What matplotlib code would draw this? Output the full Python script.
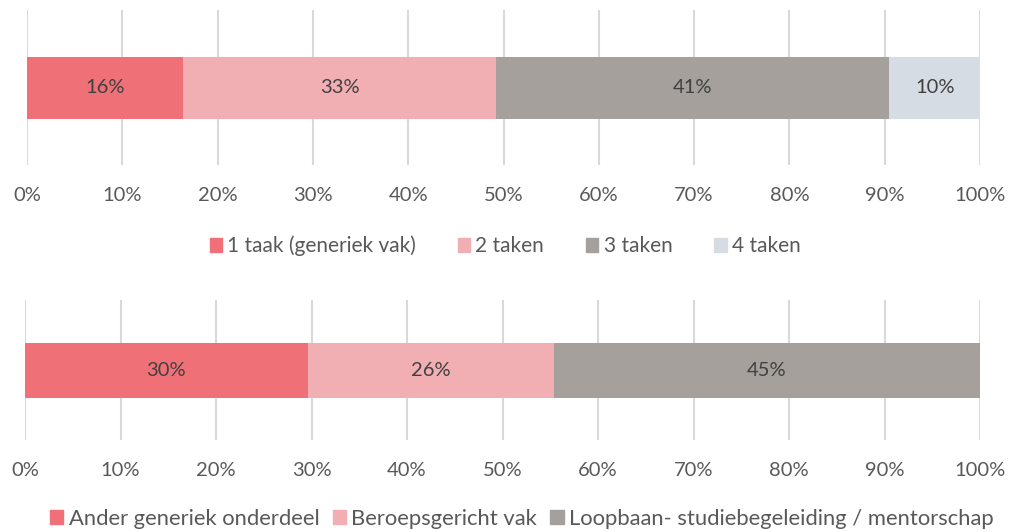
import numpy as np
import matplotlib.pyplot as plt
from matplotlib.patches import Patch

plt.rcParams['font.family'] = ['Lato', 'DejaVu Sans']

# top chart
top_labels = ['1 taak (generiek vak)', '2 taken', '3 taken', '4 taken']
top_values = [16.4, 32.8, 41.3, 9.5]
top_text = ['16%', '33%', '41%', '10%']
top_colors = ['#EF7177', '#F2AFB3', '#A5A09B', '#D5DCE4']

# bottom chart
bot_labels = ['Ander generiek onderdeel', 'Beroepsgericht vak',
              'Loopbaan- studiebegeleiding / mentorschap']
bot_values = [29.6, 25.8, 44.6]
bot_text = ['30%', '26%', '45%']
bot_colors = ['#EF7177', '#F2AFB3', '#A5A09B']

ticks = np.arange(0, 101, 10)
tick_labels = [f'{t}%' for t in ticks]

W, H = 1011, 532
fig = plt.figure(figsize=(W / 100, H / 100), dpi=100)


def stacked(ax, values, texts, colors, height):
    left = 0
    for v, t, c in zip(values, texts, colors):
        ax.barh(0, v, left=left, height=height, color=c, zorder=2)
        ax.text(left + v / 2, 0, t, ha='center', va='center',
                fontsize=14.5, color='#404040', zorder=3)
        left += v
    ax.set_xlim(0, 100)
    ax.set_ylim(-0.5, 0.5)
    ax.set_xticks(ticks)
    ax.set_xticklabels(tick_labels, fontsize=14.5, color='#595959')
    ax.tick_params(axis='x', length=0, pad=16)
    ax.set_yticks([])
    ax.grid(axis='x', color='#D9D9D9', linewidth=1.5, zorder=0)
    for s in ax.spines.values():
        s.set_visible(False)


ax1 = fig.add_axes([27 / W, (H - 165) / H, 953 / W, 155 / H])
stacked(ax1, top_values, top_text, top_colors, 62 / 155)

ax2 = fig.add_axes([25 / W, (H - 440) / H, 955 / W, 140 / H])
stacked(ax2, bot_values, bot_text, bot_colors, 55 / 140)

h1 = [Patch(color=c) for c in top_colors]
fig.legend(h1, top_labels, loc='center', bbox_to_anchor=(505 / W, 1 - 246 / H),
           ncol=4, frameon=False, fontsize=15, labelcolor='#595959',
           handlelength=0.6, handleheight=0.6, handletextpad=0.25, columnspacing=2.0)

h2 = [Patch(color=c) for c in bot_colors]
fig.legend(h2, bot_labels, loc='center', bbox_to_anchor=(522 / W, 1 - 519 / H),
           ncol=3, frameon=False, fontsize=15.8, labelcolor='#595959',
           handlelength=0.6, handleheight=0.6, handletextpad=0.25, columnspacing=0.6)

fig.savefig('out.png', dpi=100)
